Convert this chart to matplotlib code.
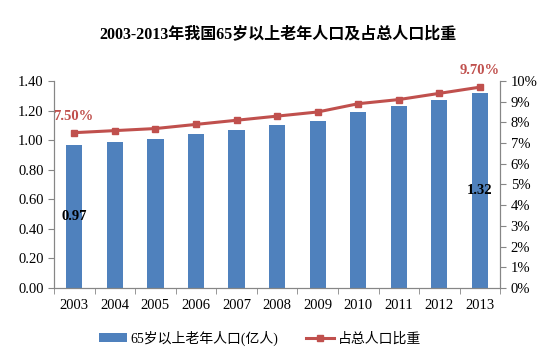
import matplotlib.pyplot as plt
import numpy as np
from matplotlib.ticker import FuncFormatter

plt.rcParams['font.family'] = ['Liberation Serif', 'Noto Sans CJK SC', 'DejaVu Sans']

years = ['2003', '2004', '2005', '2006', '2007', '2008', '2009', '2010', '2011', '2012', '2013']
elderly = [0.97, 0.99, 1.01, 1.04, 1.07, 1.10, 1.13, 1.19, 1.23, 1.27, 1.32]
share = [7.5, 7.6, 7.7, 7.9, 8.1, 8.3, 8.5, 8.9, 9.1, 9.4, 9.7]

blue = '#4F81BD'
red = '#C0504D'
grey = '#868686'

fig = plt.figure(figsize=(5.57, 3.55), dpi=100)
ax = fig.add_axes([0.097, 0.189, 0.801, 0.583])
x = np.arange(len(years))

bars = ax.bar(x, elderly, width=0.4, color=blue, label='65岁以上老年人口(亿人)', zorder=2)
ax.set_ylim(0, 1.40)
ax.set_yticks(np.arange(0, 1.41, 0.2))
ax.yaxis.set_major_formatter(FuncFormatter(lambda v, p: f'{v:.2f}'))
ax.set_xlim(-0.5, len(years) - 0.5)
ax.set_xticks(x)
ax.set_xticklabels(years)
ax.set_xticks(np.arange(-0.5, len(years), 1), minor=True)
ax.tick_params(axis='x', which='major', length=0, pad=8, labelsize=10.5)
ax.tick_params(axis='x', which='minor', length=4, color=grey)
ax.tick_params(axis='y', length=4, color=grey, labelsize=10.5)

ax2 = ax.twinx()
line, = ax2.plot(x, share, color=red, lw=2.2, marker='s', ms=5, label='占总人口比重', zorder=3)
ax2.set_ylim(0, 10)
ax2.set_yticks(range(0, 11))
ax2.yaxis.set_major_formatter(FuncFormatter(lambda v, p: f'{v:.0f}%'))
ax2.tick_params(axis='y', length=4, color=grey, labelsize=10.5)

for a in (ax, ax2):
    a.spines['top'].set_visible(False)
    for s in ('left', 'right', 'bottom'):
        a.spines[s].set_color(grey)

ax2.annotate(f'{share[0]:.2f}%', (x[0], share[0]), xytext=(-15, 12), textcoords='offset points',
             color=red, fontsize=10.5, fontweight='bold', ha='left', va='center')
ax2.annotate(f'{share[-1]:.2f}%', (x[-1], share[-1]), xytext=(0, 12), textcoords='offset points',
             color=red, fontsize=10.5, fontweight='bold', ha='center', va='center')
ax.text(x[0], elderly[0] / 2, f'{elderly[0]:.2f}', ha='center', va='center', fontsize=10.5, fontweight='bold')
ax.text(x[-1], elderly[-1] / 2, f'{elderly[-1]:.2f}', ha='center', va='center', fontsize=10.5, fontweight='bold')

fig.suptitle('2003-2013年我国65岁以上老年人口及占总人口比重', y=0.925, fontsize=11.5, fontweight='bold')

fig.legend(handles=[bars, line], loc='center', bbox_to_anchor=(0.467, 0.048), ncol=2,
           frameon=False, fontsize=10, handlelength=2.0, columnspacing=2.0, handletextpad=0.3)

fig.savefig('out.png', dpi=100)
